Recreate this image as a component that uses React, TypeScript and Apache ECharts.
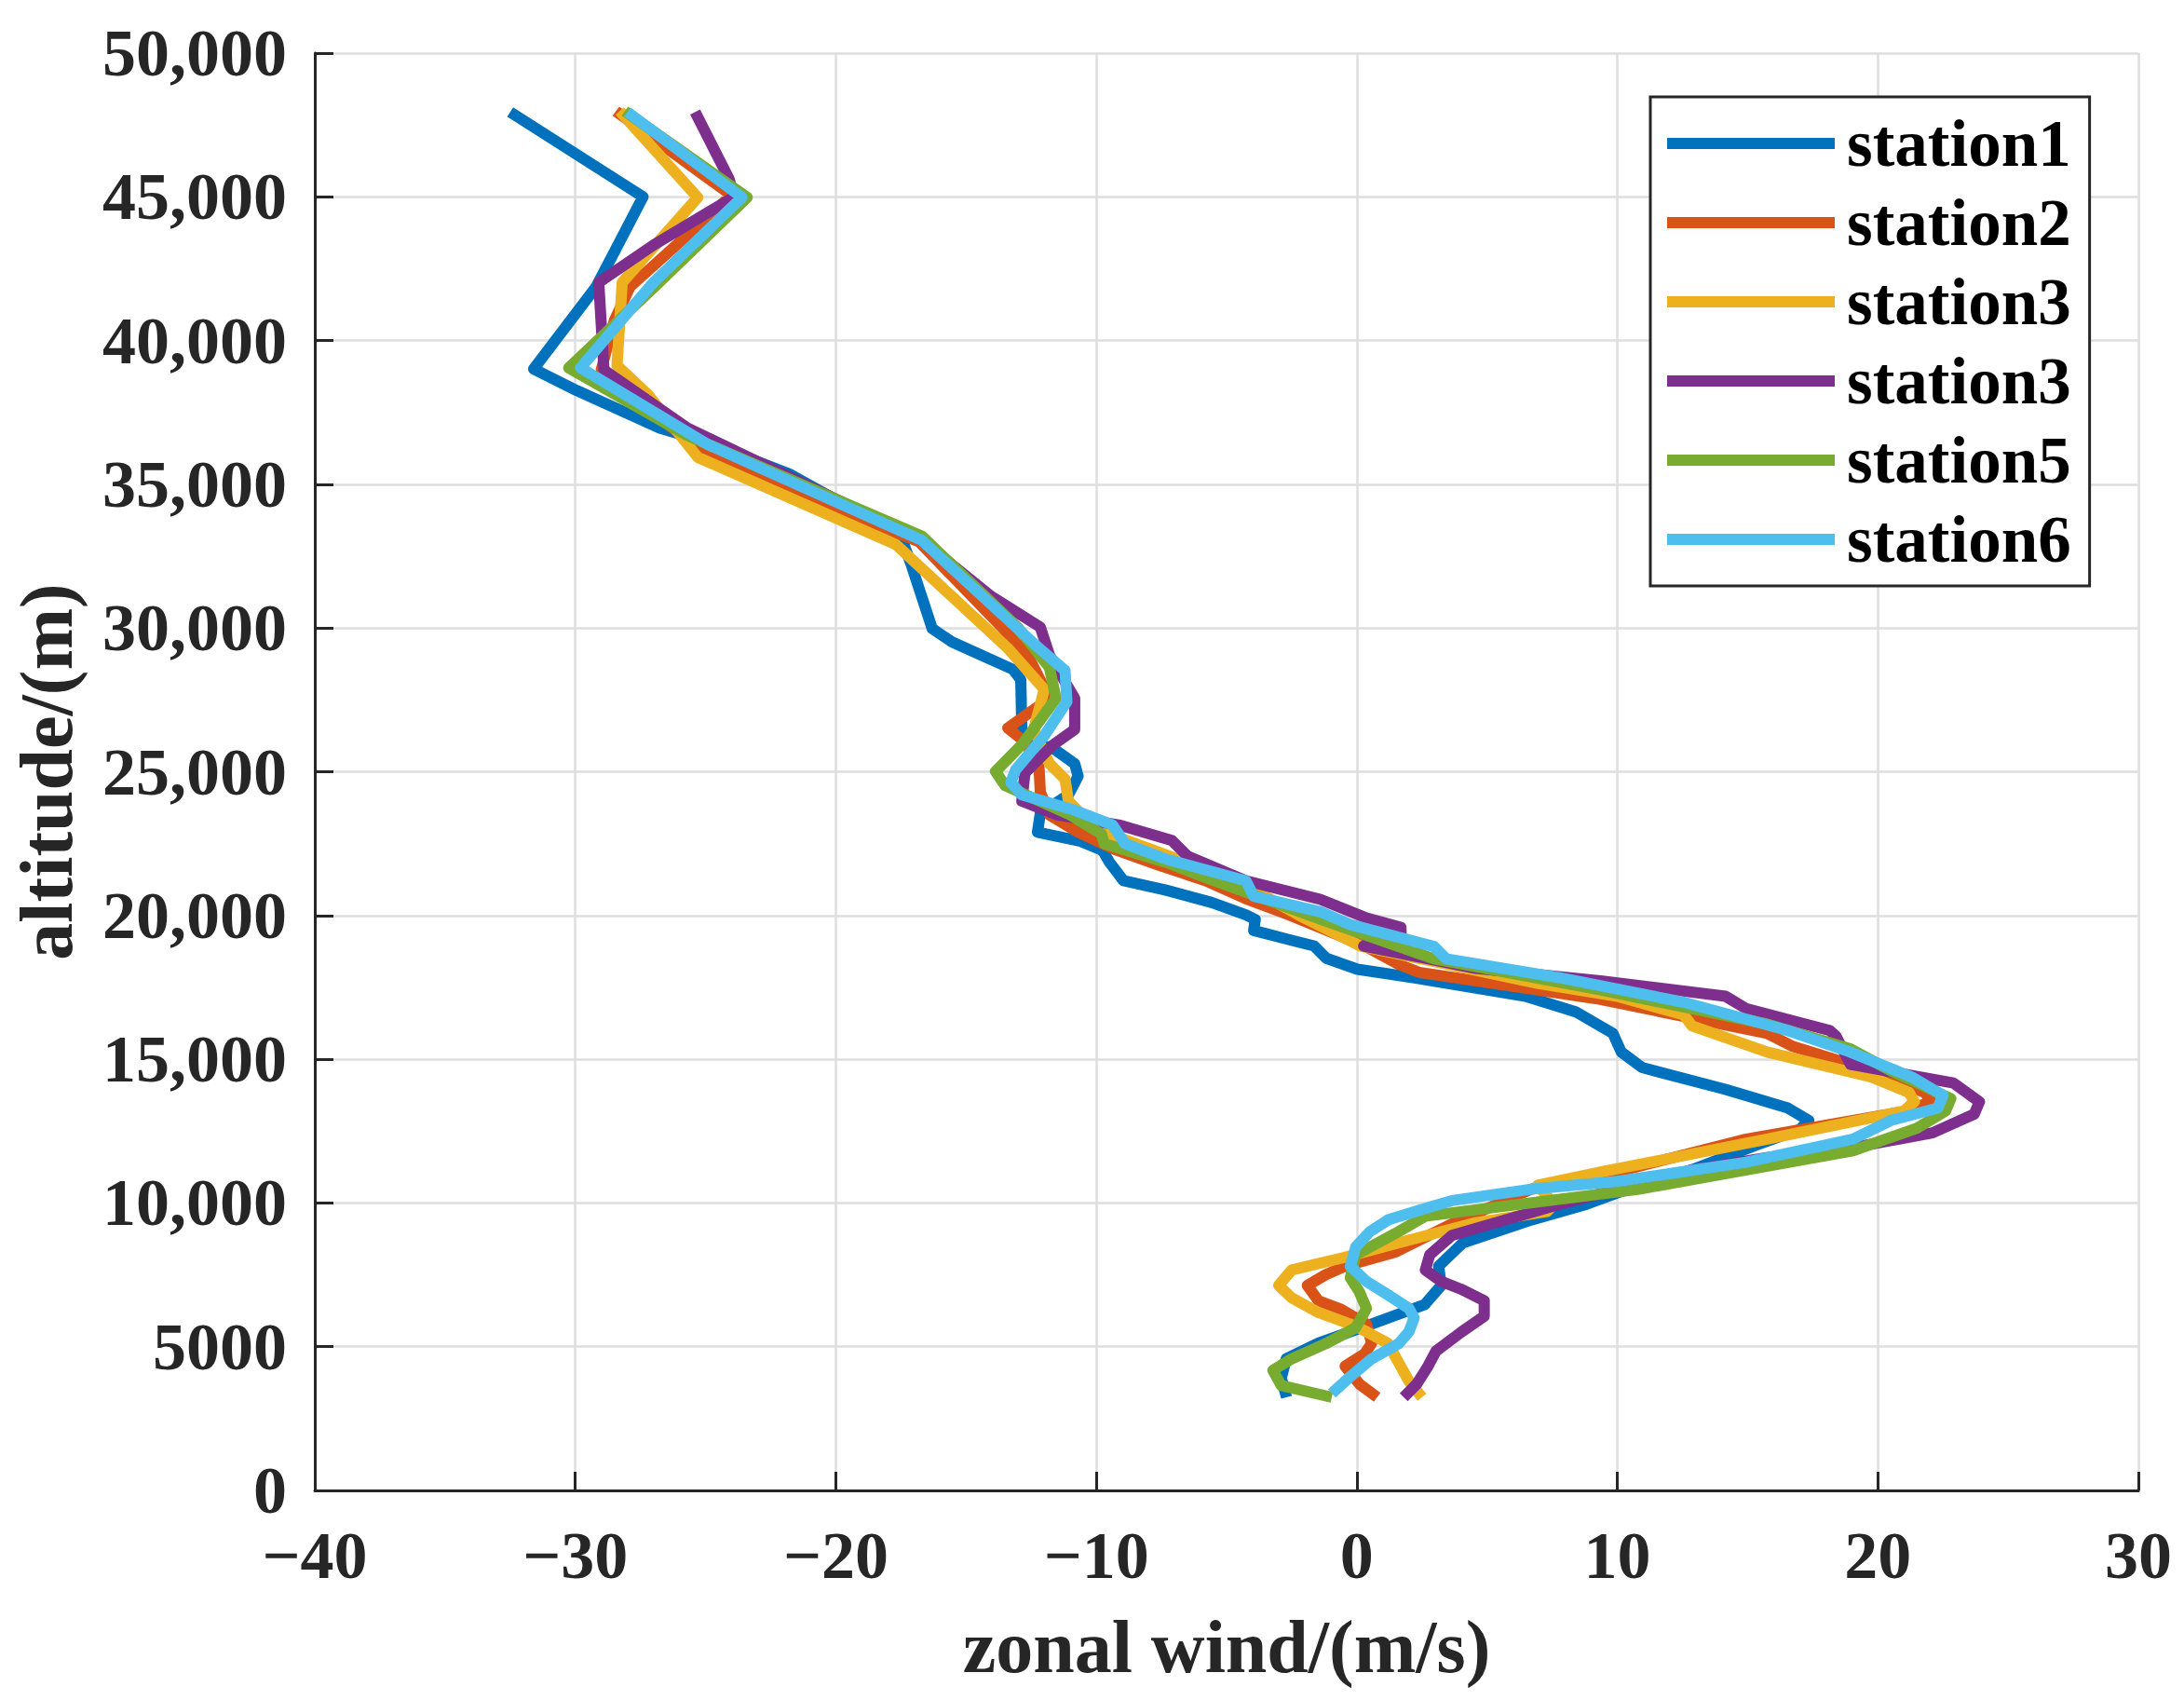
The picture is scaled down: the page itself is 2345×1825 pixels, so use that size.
import React, { useEffect, useRef } from "react";
import * as echarts from "echarts";

const SERIES_KEYS = ["station1", "station2", "station3", "station4", "station5", "station6"];
const LEGEND_LABELS = ["station1", "station2", "station3", "station3", "station5", "station6"];
const COLORS = ["#0072BD", "#D95319", "#EDB120", "#7E2F8E", "#77AC30", "#4DBEEE"];

const ALT1 = [3240, 3910, 4580, 5120, 5790, 6460, 7130, 7800, 8610, 9410, 9950, 10350, 11200, 12000, 12550, 12870, 13300, 13950, 14710, 15250, 15900, 16650, 17190, 17840, 18130, 18510, 18940, 19160, 19480, 19860, 20020, 20450, 20890, 21210, 21860, 22260, 22580, 22900, 23550, 24200, 24850, 25280, 25820, 26040, 26470, 28200, 28560, 29130, 29520, 29980, 32190, 33200, 35370, 36450, 36960, 38260, 39010, 41870, 45000, 47950];
const WIND1 = [-2.7, -2.9, -2.71, -1.48, 0.57, 2.6, 3.24, 3.14, 4.07, 6.7, 8.8, 10.0, 13.0, 15.3, 17.0, 17.35, 16.55, 14.15, 10.95, 10.15, 9.83, 8.4, 6.47, 2.16, 0.02, -1.17, -1.64, -2.6, -3.96, -3.9, -4.26, -5.57, -7.36, -8.96, -9.5, -9.76, -10.6, -12.26, -12.15, -11.07, -10.7, -10.83, -11.67, -12.6, -12.86, -12.9, -13.2, -14.6, -15.55, -16.3, -17.1, -17.5, -21.8, -24.9, -26.76, -29.94, -31.6, -29.2, -27.4, -32.5];

const ALT2 = [3240, 3700, 4320, 4750, 5120, 5790, 6300, 6600, 7130, 7500, 7800, 8300, 9270, 10480, 11200, 12220, 13160, 13520, 13840, 14600, 15460, 15900, 17080, 18020, 18300, 18940, 19500, 20020, 20600, 21210, 21750, 22300, 22900, 23500, 24300, 25170, 26040, 26520, 27550, 29000, 30000, 33000, 36000, 39000, 40700, 41870, 45050, 47980];
const WIND2 = [0.78, 0.1, -0.45, 0.3, 0.57, 0.37, -0.6, -1.48, -1.9, -1.2, -0.45, 1.5, 3.65, 6.7, 10.5, 14.95, 20.9, 22.06, 21.8, 19.75, 16.7, 15.75, 9.35, 2.4, 1.6, 0.3, -1.2, -2.6, -4.3, -5.8, -7.6, -9.3, -10.7, -11.8, -12.15, -12.2, -12.74, -13.4, -11.8, -12.6, -13.6, -16.8, -25.0, -29.0, -28.5, -27.9, -24.0, -28.44];

const ALT3 = [3240, 3800, 4450, 5120, 5700, 6190, 6700, 7130, 7670, 8100, 8610, 9300, 9700, 9950, 10620, 11100, 12220, 13200, 13520, 13840, 14380, 15250, 16160, 16540, 17190, 17640, 18940, 20000, 21100, 22000, 23000, 23980, 24740, 25280, 26470, 27870, 29300, 32910, 35940, 38110, 39130, 42020, 44980, 47980];
const WIND3 = [2.5, 2.0, 1.6, 1.19, 0.0, -1.48, -2.5, -3.0, -2.5, -0.5, 1.6, 4.5, 7.3, 7.56, 6.94, 9.5, 15.75, 21.0, 21.4, 21.2, 19.75, 15.75, 12.87, 12.55, 10.0, 6.93, 0.14, -2.2, -4.38, -7.0, -10.0, -11.07, -11.2, -11.8, -12.4, -12.0, -13.4, -17.7, -25.3, -27.2, -28.4, -28.2, -25.3, -28.3];

const ALT4 = [3240, 3700, 4320, 4850, 5500, 6060, 6600, 7000, 7270, 7670, 8200, 8870, 9950, 11150, 11580, 11900, 12440, 13090, 13520, 14170, 14820, 15790, 16000, 16760, 17190, 17730, 18160, 18940, 19400, 19590, 19910, 20560, 21210, 22070, 22610, 23150, 23500, 23980, 24960, 25930, 26470, 27550, 29060, 30030, 31110, 33050, 36960, 38980, 42020, 43320, 45000, 45630, 47950];
const WIND4 = [1.8, 2.3, 2.73, 3.04, 4.0, 4.89, 4.89, 4.0, 3.24, 2.63, 2.8, 3.65, 7.76, 12.9, 15.75, 18.9, 22.1, 23.7, 23.9, 22.9, 18.95, 18.4, 18.15, 14.95, 14.15, 9.35, 4.56, 0.26, 1.7, 1.69, 0.38, -1.4, -4.26, -6.5, -7.1, -9.14, -11.5, -12.86, -12.74, -11.67, -10.83, -10.83, -11.8, -12.15, -14.05, -16.7, -25.7, -28.9, -29.1, -27.0, -23.9, -24.1, -25.4];

const ALT5 = [3240, 3650, 4180, 4580, 5100, 5660, 6330, 6900, 7400, 8200, 9000, 9540, 10480, 11820, 12600, 13200, 13630, 14600, 15360, 16220, 17410, 18490, 19800, 21320, 21860, 22500, 22830, 23500, 24520, 25010, 26000, 27550, 28630, 30000, 33200, 36700, 39050, 41870, 44980, 47980];
const WIND5 = [-0.96, -2.9, -3.22, -2.5, -1.2, -0.04, 0.37, 0.1, -0.25, -0.04, 1.6, 2.63, 10.84, 19.05, 21.5, 22.6, 22.8, 20.5, 18.95, 15.75, 9.35, 2.96, -1.17, -5.8, -7.36, -9.7, -9.8, -11.0, -13.5, -13.87, -12.8, -11.55, -11.8, -13.0, -16.7, -25.7, -30.25, -26.96, -23.4, -28.1];

const ALT6 = [3380, 4000, 4580, 5100, 5520, 6000, 6330, 6800, 7270, 7800, 8470, 9000, 9410, 9810, 10080, 10480, 10750, 11420, 12220, 12870, 13300, 13740, 14380, 15250, 16000, 16980, 17840, 18490, 18920, 19680, 20130, 20670, 21210, 21970, 22500, 23150, 23690, 24200, 24630, 25060, 26250, 27440, 28520, 29300, 33050, 36380, 39050, 42020, 44980, 47950];
const WIND6 = [-0.96, -0.2, 0.57, 1.6, 2.0, 2.2, 2.0, 1.2, 0.37, -0.25, -0.04, 0.5, 1.2, 2.63, 3.65, 6.7, 10.0, 14.95, 19.05, 20.5, 22.3, 22.5, 21.3, 18.94, 16.55, 12.55, 7.75, 3.44, 2.96, -0.24, -1.4, -3.96, -4.26, -7.36, -8.9, -9.38, -10.93, -12.86, -13.28, -13.1, -12.0, -11.13, -11.2, -12.2, -16.7, -24.9, -29.8, -27.0, -23.6, -28.0];

const ALTS = [ALT1, ALT2, ALT3, ALT4, ALT5, ALT6];
const WINDS = [WIND1, WIND2, WIND3, WIND4, WIND5, WIND6];

const FONT = "'Liberation Serif', 'Times New Roman', serif";
const AXIS_COLOR = "#262626";

export default function App() {
  const ref = useRef<HTMLDivElement>(null);

  useEffect(() => {
    if (!ref.current) return;
    const chart = echarts.init(ref.current, null, { renderer: "svg" });

    const series = ALTS.map((alts, s) => ({
      name: SERIES_KEYS[s],
      type: "line",
      data: alts.map((a, i) => [WINDS[s][i], a]),
      symbol: "none",
      showSymbol: false,
      smooth: false,
      color: COLORS[s],
      lineStyle: { color: COLORS[s], width: 12, join: "round", cap: "butt" },
      z: 2 + s,
    }));

    const option: any = {
      animation: false,
      backgroundColor: "#ffffff",
      grid: { left: 338, right: 49, top: 57, bottom: 225, containLabel: false },
      legend: {
        show: true,
        data: SERIES_KEYS,
        formatter: (name: string) => LEGEND_LABELS[SERIES_KEYS.indexOf(name)],
        left: 1772,
        top: 104,
        orient: "vertical",
        icon: "rect",
        itemWidth: 180,
        itemHeight: 12,
        itemGap: 13,
        padding: [14, 20, 14, 18],
        backgroundColor: "#ffffff",
        borderColor: AXIS_COLOR,
        borderWidth: 3,
        selectedMode: false,
        textStyle: {
          fontFamily: FONT,
          fontWeight: "bold",
          fontSize: 71,
          lineHeight: 72,
          color: "#000000",
          padding: [0, 0, 0, 8],
        },
      },
      xAxis: {
        type: "value",
        min: -40,
        max: 30,
        interval: 10,
        name: "zonal wind/(m/s)",
        nameLocation: "middle",
        nameGap: 128,
        nameTextStyle: { fontFamily: FONT, fontWeight: "bold", fontSize: 80, color: AXIS_COLOR },
        axisLine: { show: true, onZero: false, lineStyle: { color: AXIS_COLOR, width: 3 } },
        axisTick: { show: true, inside: true, length: 20, lineStyle: { color: AXIS_COLOR, width: 3 } },
        axisLabel: {
          margin: 40,
          fontFamily: FONT,
          fontWeight: "bold",
          fontSize: 72,
          lineHeight: 60,
          color: AXIS_COLOR,
          formatter: (v: number) => (v < 0 ? "\u2212" + Math.abs(v) : String(v)),
        },
        splitLine: { show: true, lineStyle: { color: "#dedede", width: 2.5 } },
      },
      yAxis: {
        type: "value",
        min: 0,
        max: 50000,
        interval: 5000,
        name: "altitude/(m)",
        nameLocation: "middle",
        nameGap: 248,
        nameRotate: 90,
        nameTextStyle: { fontFamily: FONT, fontWeight: "bold", fontSize: 80, color: AXIS_COLOR },
        axisLine: { show: true, onZero: false, lineStyle: { color: AXIS_COLOR, width: 3 } },
        axisTick: { show: true, inside: true, length: 20, lineStyle: { color: AXIS_COLOR, width: 3 } },
        axisLabel: {
          margin: 30,
          fontFamily: FONT,
          fontWeight: "bold",
          fontSize: 72,
          lineHeight: 56,
          color: AXIS_COLOR,
          formatter: (v: number) => (v >= 10000 ? v.toLocaleString("en-US") : String(v)),
        },
        splitLine: { show: true, lineStyle: { color: "#dedede", width: 2.5 } },
      },
      series,
    };

    chart.setOption(option);
    return () => {
      chart.dispose();
    };
  }, []);

  return (
    <div
      ref={ref}
      style={{ position: "absolute", left: 0, top: 0, width: 2345, height: 1825, background: "#fff" }}
    />
  );
}
